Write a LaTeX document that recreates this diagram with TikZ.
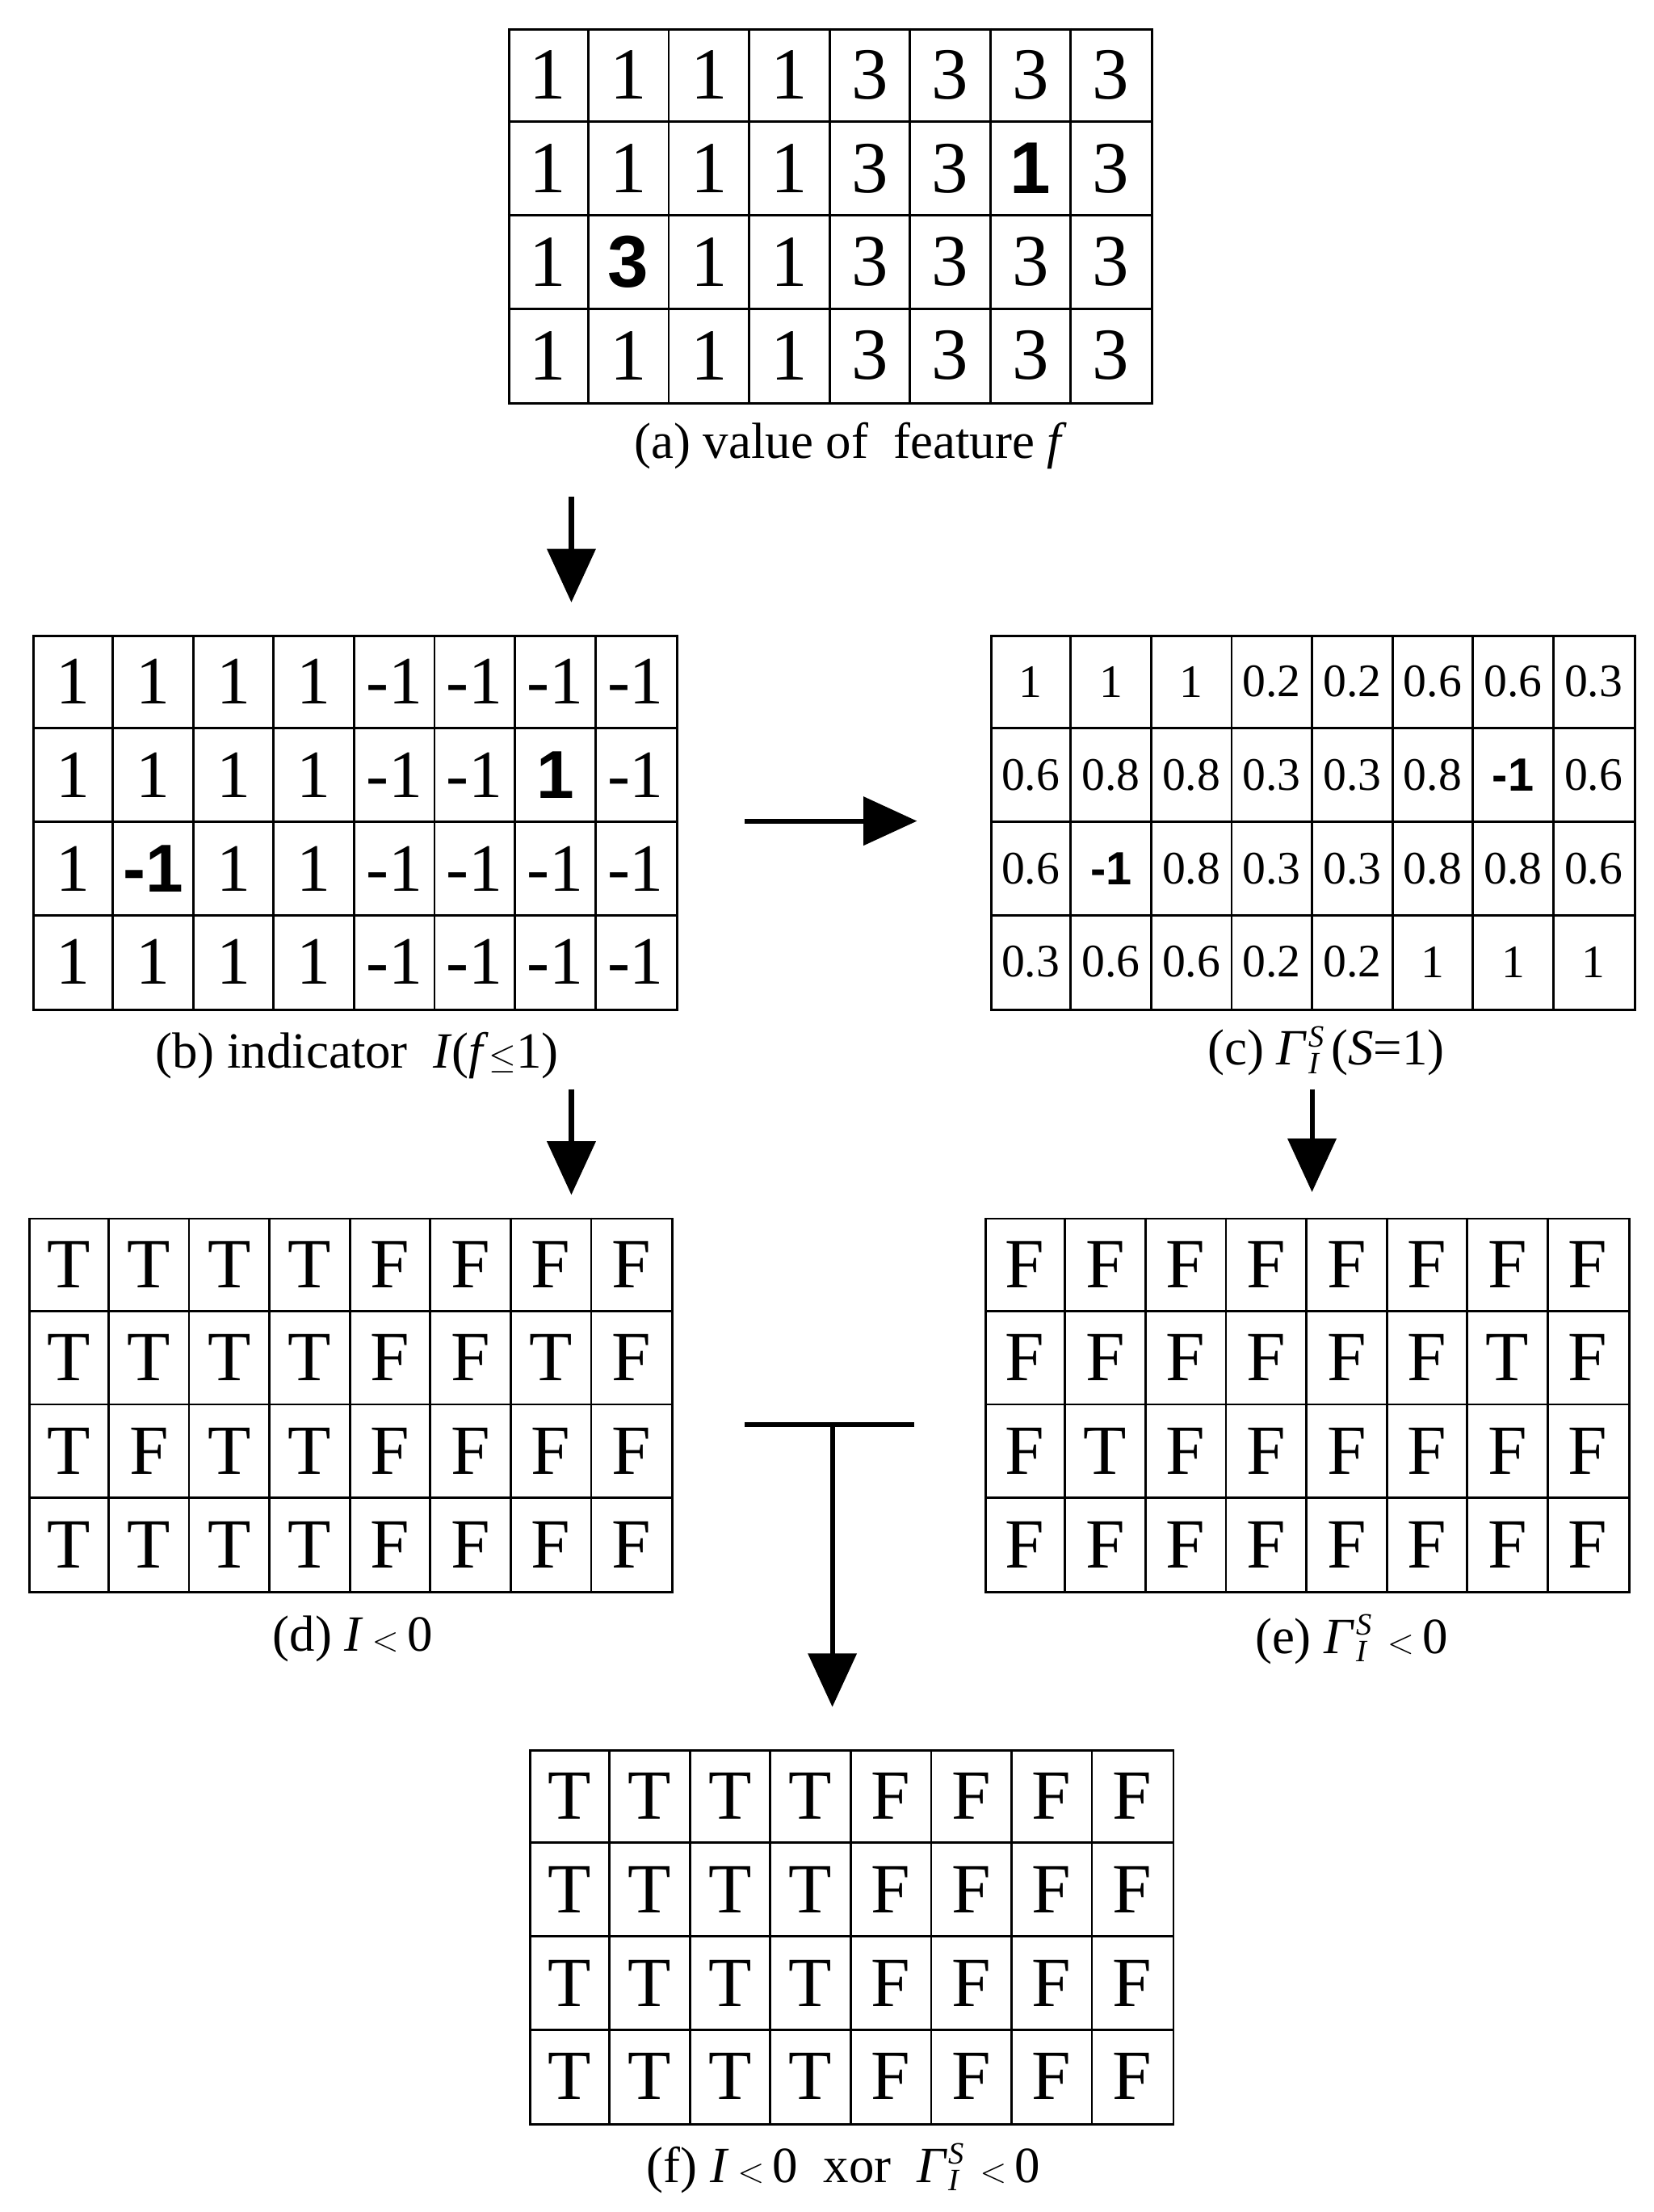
\documentclass[tikz,border=0pt]{standalone}
\usepackage{fontspec}
\setmainfont{Liberation Serif}
\newfontfamily\bsans{Liberation Sans}
\usetikzlibrary{arrows.meta,calc}
\newcommand{\Bd}[1]{{\bsans\bfseries #1}}
\newcommand{\GSI}{\textit{Γ}\kern1pt\rlap{\raisebox{13pt}{\fontsize{22}{24}\selectfont\textit{S}}}\raisebox{-6pt}{\fontsize{22}{24}\selectfont\textit{I}}\kern8pt}
\newcommand{\lt}{\,{\fontsize{40}{40}\selectfont$<$}\,}
\newcommand{\mkgrid}[5]{% x0,y0,name,font,rows
  \node[draw,line width=1.6,minimum width=456,minimum height=265,inner sep=0,anchor=north west] (#3) at (#1,#2) {};
  \foreach \i in {1,...,7} \draw[line width=1.6] ($(#1,#2)+(\i*57,0)$) -- ++(0,265);
  \foreach \j in {1,2,3} \draw[line width=1.6] ($(#1,#2)+(0,\j*66.25)$) -- ++(456,0);
  \foreach \row [count=\r] in {#5} {
    \foreach \v [count=\c] in \row {
      \node[font=#4,inner sep=0] (#3-\r-\c) at ($(#1,#2)+(\c*57-28.5,\r*66.25-33.1)$) {\v};
    }
  }
}
\begin{document}
\begin{tikzpicture}[x=1pt,y=-1pt,
  arr/.style={line width=3.5,-{Triangle[length=38,width=34]}},
  captxt/.style={font=\fontsize{36}{40}\selectfont,inner sep=0}]
\useasboundingbox (0,0) rectangle (1172,1568);
\mkgrid{360}{20}{A}{\fontsize{52}{56}\selectfont}{{1,1,1,1,3,3,3,3},{1,1,1,1,3,3,\Bd{1},3},{1,\Bd{3},1,1,3,3,3,3},{1,1,1,1,3,3,3,3}}
\node[captxt] (ca) at (603,316) {(a) value of \ feature \textit{f}};
\mkgrid{23}{450}{B}{\fontsize{48}{52}\selectfont}{{1,1,1,1,-1,-1,-1,-1},{1,1,1,1,-1,-1,\Bd{1},-1},{1,\Bd{-1},1,1,-1,-1,-1,-1},{1,1,1,1,-1,-1,-1,-1}}
\node[captxt] (cb) at (253,748) {(b) indicator \ \textit{I}(\textit{f}$\leq$1)};
\mkgrid{702}{450}{C}{\fontsize{33}{36}\selectfont}{{1,1,1,0.2,0.2,0.6,0.6,0.3},{0.6,0.8,0.8,0.3,0.3,0.8,\Bd{-1},0.6},{0.6,\Bd{-1},0.8,0.3,0.3,0.8,0.8,0.6},{0.3,0.6,0.6,0.2,0.2,1,1,1}}
\node[captxt] (cc) at (940,745) {(c) \GSI(\textit{S}=1)};
\mkgrid{20}{863}{D}{\fontsize{50}{54}\selectfont}{{T,T,T,T,F,F,F,F},{T,T,T,T,F,F,T,F},{T,F,T,T,F,F,F,F},{T,T,T,T,F,F,F,F}}
\node[captxt] (cd) at (250,1162) {(d) \textit{I}\lt0};
\mkgrid{698}{863}{E}{\fontsize{50}{54}\selectfont}{{F,F,F,F,F,F,F,F},{F,F,F,F,F,F,T,F},{F,T,F,F,F,F,F,F},{F,F,F,F,F,F,F,F}}
\node[captxt] (ce) at (958,1162) {(e) \GSI\lt0};
\mkgrid{375}{1240}{F}{\fontsize{50}{54}\selectfont}{{T,T,T,T,F,F,F,F},{T,T,T,T,F,F,F,F},{T,T,T,T,F,F,F,F},{T,T,T,T,F,F,F,F}}
\node[captxt] (cf) at (598,1537) {(f) \textit{I}\lt0 \ xor \ \GSI\lt0};
\coordinate (a1) at (405,352); \coordinate (a2) at (405,427);
\coordinate (r1) at (528,582); \coordinate (r2) at (650,582);
\coordinate (b1) at (405,772); \coordinate (b2) at (405,847);
\coordinate (c1) at (930,772); \coordinate (c2) at (930,845);
\coordinate (h1) at (528,1010); \coordinate (h2) at (648,1010);
\coordinate (v1) at (590,1010); \coordinate (v2) at (590,1210);
\draw[arr] (a1) -- (a2);
\draw[arr] (r1) -- (r2);
\draw[arr] (b1) -- (b2);
\draw[arr] (c1) -- (c2);
\draw[line width=3.5] (h1) -- (h2);
\draw[arr] (v1) -- (v2);
\end{tikzpicture}
\end{document}
